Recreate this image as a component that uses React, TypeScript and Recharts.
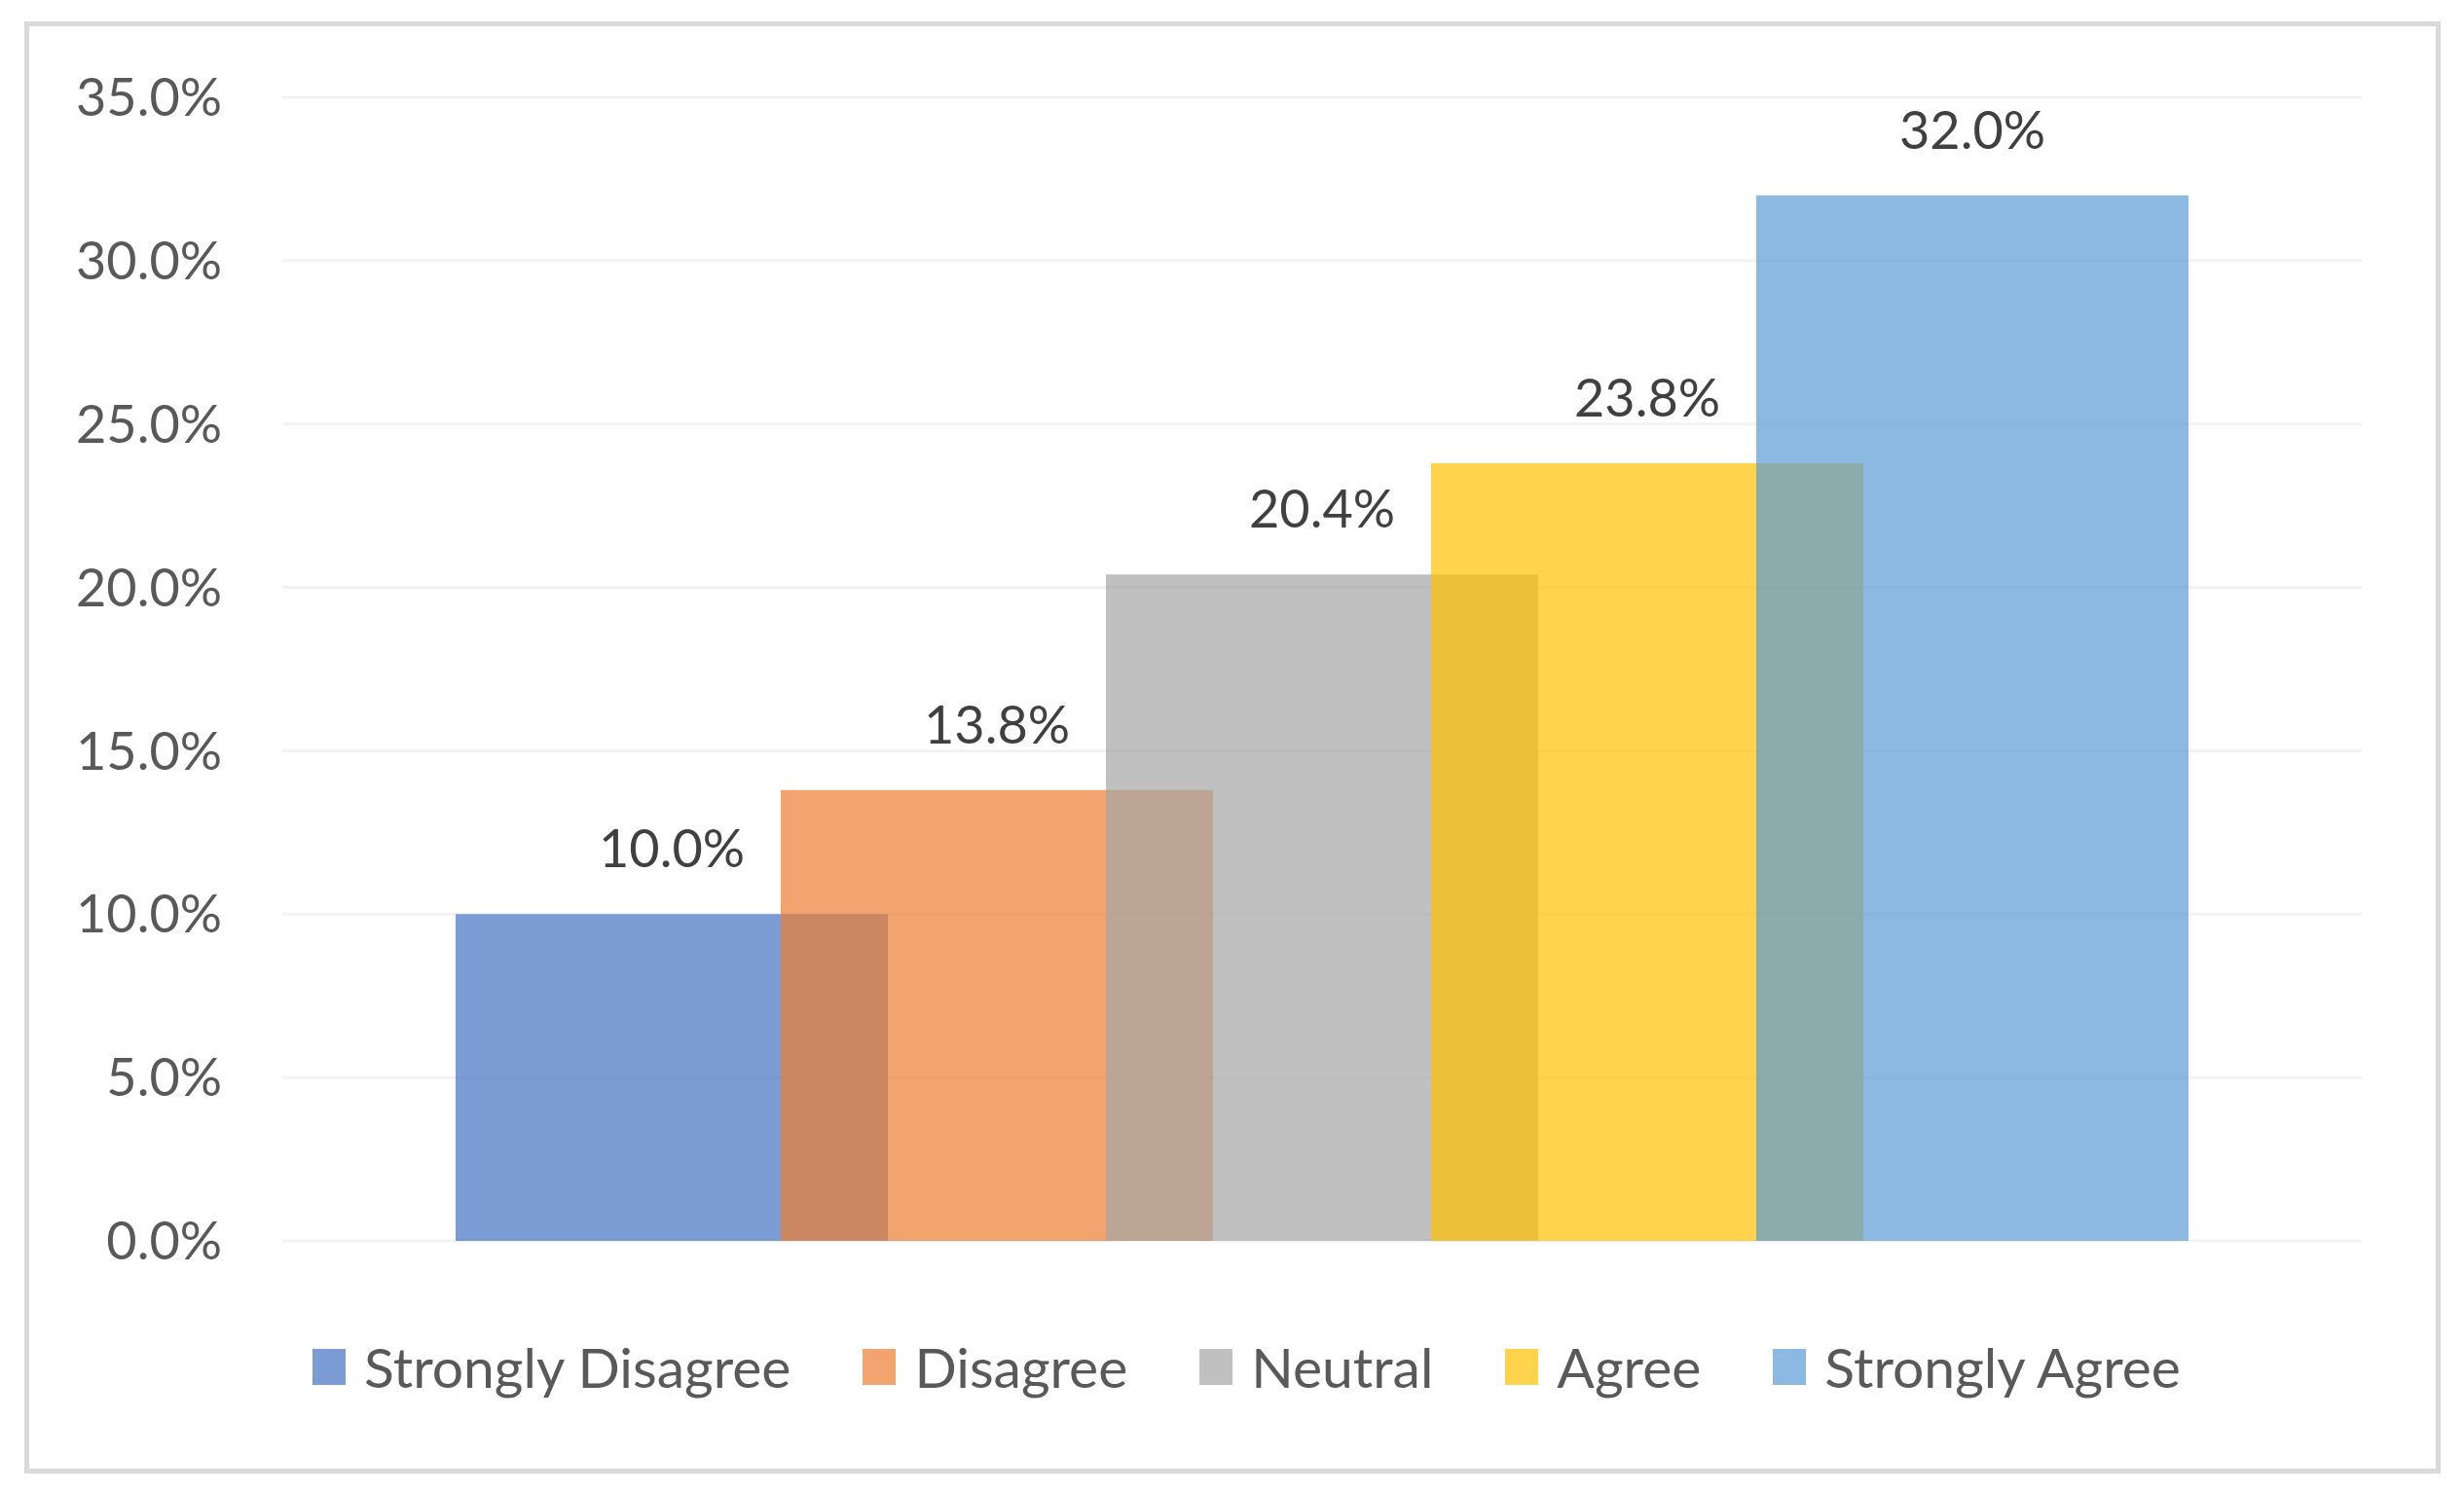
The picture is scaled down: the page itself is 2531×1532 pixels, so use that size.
import React from 'react';
import { BarChart, Bar, XAxis, YAxis, CartesianGrid, Legend, LabelList } from 'recharts';

const FONT = 'Lato, "Open Sans", sans-serif';

// one bar per response, Excel-style overlapping translucent columns
const responses = ['Strongly Disagree', 'Disagree', 'Neutral', 'Agree', 'Strongly Agree'];
const shares = [10.0, 13.8, 20.4, 23.8, 32.0];
const colors = ['#4472C4', '#ED7D31', '#A5A5A5', '#FFC000', '#5B9BD5'];
const yTicks = [0, 5, 10, 15, 20, 25, 30, 35];

const row: Record<string, any> = { name: 'Responses' };
responses.forEach((r, i) => {
  row[r] = shares[i];
});
const data = [row];

const pct = (v: any) => `${Number(v).toFixed(1)}%`;

const LegendRow = ({ payload }: any) => {
  // keep series order, not alphabetical
  const items = [...(payload || [])].sort(
    (a: any, b: any) => responses.indexOf(a.value) - responses.indexOf(b.value)
  );
  return (
    <div
      style={{
        display: 'flex',
        justifyContent: 'center',
        alignItems: 'center',
        fontFamily: FONT,
        fontSize: 57,
        color: '#595959',
        paddingLeft: 30,
        lineHeight: '66px',
      }}
    >
      {items.map((p: any, i: number) => (
        <div
          key={p.value}
          style={{ display: 'flex', alignItems: 'center', marginRight: i === items.length - 1 ? 0 : 74 }}
        >
          <span style={{ display: 'inline-block', width: 34, height: 37, background: p.color, opacity: 0.7, marginRight: 19 }} />
          <span>{p.value}</span>
        </div>
      ))}
    </div>
  );
};

const App: React.FC = () => {
  return (
    <div style={{ position: 'fixed', left: 0, top: 0, width: 2531, height: 1532, background: '#fff' }}>
      <div
        style={{
          position: 'absolute',
          left: 25,
          top: 22,
          width: 2482,
          height: 1492,
          boxSizing: 'border-box',
          border: '5px solid #D9D9D9',
        }}
      />
      <div style={{ position: 'absolute', left: 0, top: 0 }}>
        <BarChart
          width={2531}
          height={1532}
          data={data}
          margin={{ top: 100, right: 105, bottom: 257, left: 0 }}
          barGap={-110}
        >
          <CartesianGrid vertical={false} stroke="#F2F2F2" strokeWidth={3} />
          <XAxis dataKey="name" hide />
          <YAxis
            width={290}
            domain={[0, 35]}
            ticks={yTicks}
            tickFormatter={pct}
            axisLine={false}
            tickLine={false}
            tickSize={0}
            tickMargin={62}
            tick={{ fill: '#595959', fontSize: 54, fontFamily: FONT }}
          />
          <Legend
            verticalAlign="middle"
            align="center"
            layout="horizontal"
            content={<LegendRow />}
            wrapperStyle={{ top: 1371, left: 0, width: 2531 }}
          />
          {responses.map((r, i) => (
            <Bar key={r} dataKey={r} fill={colors[i]} fillOpacity={0.7} barSize={444} isAnimationActive={false}>
              <LabelList
                dataKey={r}
                position="top"
                offset={48}
                formatter={pct}
                fill="#404040"
                fontSize={54}
                fontFamily={FONT}
              />
            </Bar>
          ))}
        </BarChart>
      </div>
    </div>
  );
};

export default App;
